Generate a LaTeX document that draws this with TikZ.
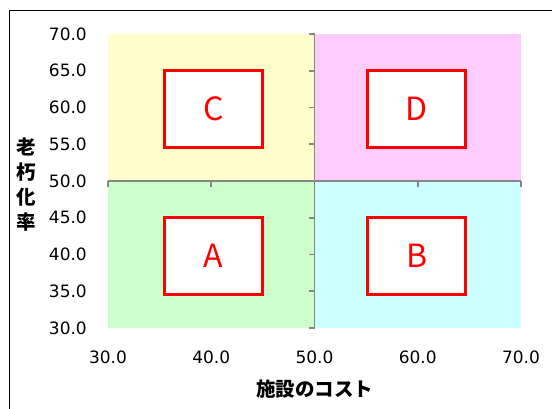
\documentclass[tikz,border=0pt]{standalone}
\usepackage{fontspec}
\setmainfont{DejaVu Sans}
\newfontfamily\jpfont{Noto Sans CJK JP}
\usetikzlibrary{positioning}
\definecolor{zoneyellow}{HTML}{FFFFCC}
\definecolor{zonepink}{HTML}{FFCCFF}
\definecolor{zonegreen}{HTML}{CCFFCC}
\definecolor{zonecyan}{HTML}{CCFFFF}
\definecolor{axisgray}{HTML}{868686}

\begin{document}
\begin{tikzpicture}[x=10.325pt,y=7.35pt,
zone/.style={draw=red,fill=white,line width=3pt,minimum width=98pt,minimum height=77pt,text=red,font=\jpfont\fontsize{32}{36}\selectfont},
axis/.style={draw=axisgray,line width=1.8pt},
ticklab/.style={font=\fontsize{17}{20}\selectfont,inner sep=0pt},
axlab/.style={font=\jpfont\bfseries\fontsize{19.5}{25}\selectfont,inner sep=0pt}]
\useasboundingbox (19.54,19.116) rectangle (73.0,74.626);
\draw[line width=1.5pt] (20.46,73.2) rectangle (80,10);
% quadrants
\fill[zonegreen] (30,30) rectangle (50,50);
\fill[zonecyan] (50,30) rectangle (70,50);
\fill[zoneyellow] (30,50) rectangle (50,70);
\fill[zonepink] (50,50) rectangle (70,70);
% axes crossing at (50,50)
\draw[axis] (30,50) -- (70,50);
\draw[axis] (50,30) -- (50,70);
\foreach \x in {30,40,...,70} \draw[axis] (\x,50) -- ++(0pt,-6pt);
\foreach \y in {30,35,...,70} \draw[axis] (50,\y) -- ++(-6pt,0pt);
% tick labels
\foreach \y in {30,35,...,70} \node[ticklab,anchor=east] at ([xshift=-21pt]30,\y) {\y.0};
\foreach \x in {30,40,...,70} \node[ticklab] at ([yshift=-29pt]\x,30) {\x.0};
\node[axlab] (xlab) at ([yshift=-61pt]50,30) {施設のコスト};
\node[axlab,align=center] (ylab) at ([xshift=-81.5pt]30,49.5) {老\\朽\\化\\率};
% zones
\node[zone] (zoneC) at (40.2,59.8) {C};
\node[zone] (zoneD) at (59.9,59.8) {D};
\node[zone] (zoneA) at (40.2,39.8) {A};
\node[zone] (zoneB) at (59.9,39.8) {B};
\end{tikzpicture}
\end{document}
